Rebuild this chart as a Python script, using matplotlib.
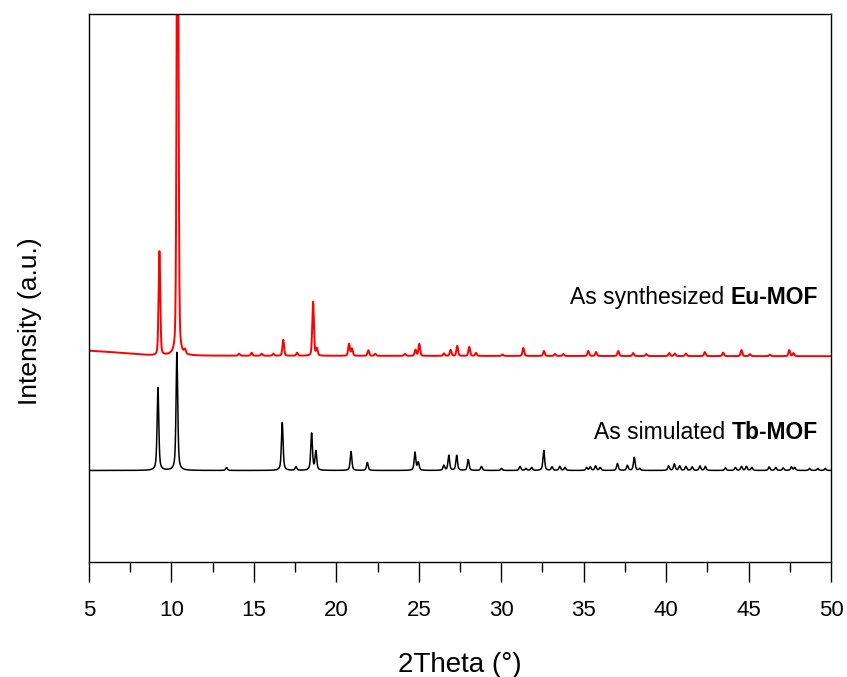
import numpy as np
import matplotlib
matplotlib.use("Agg")
import matplotlib.pyplot as plt
from matplotlib.ticker import MultipleLocator, NullLocator

plt.rcParams['font.family'] = ['Liberation Sans', 'DejaVu Sans']

# peak lists (2theta in degrees, height in plot units)
tb_pos = [9.18, 10.33, 13.34, 16.72, 17.55, 18.50, 18.76, 20.89, 21.88, 24.77, 24.97,
          26.52, 26.82, 27.30, 28.00, 28.80, 30.02, 31.14, 31.50, 31.84, 32.58, 33.08,
          33.55, 33.87, 35.18, 35.40, 35.72, 36.00, 37.05, 37.65, 38.07, 38.40, 40.15,
          40.50, 40.82, 41.20, 41.58, 42.05, 42.38, 43.60, 44.20, 44.57, 44.87, 45.20,
          46.25, 46.65, 47.10, 47.60, 47.80, 48.70, 49.20, 49.65]
tb_hgt = [83, 118, 3, 48, 3.5, 37, 19, 19, 8, 18, 8,
          5, 15, 15, 11, 4, 2, 4, 2, 3, 20, 3.5,
          4, 3, 3, 3.5, 4.5, 3, 7, 5, 13, 2, 4.5,
          6.5, 4.5, 4, 3.5, 4.5, 4, 2.5, 3, 4, 4, 3,
          3.5, 3, 2.5, 3.5, 3, 2, 2, 2]

eu_pos = [9.27, 10.37, 10.82, 14.10, 14.86, 15.47, 16.18, 16.78, 17.62, 18.59, 18.82,
          20.77, 20.95, 21.94, 22.36, 24.16, 24.80, 25.03, 26.53, 26.93, 27.33, 28.06,
          28.47, 30.08, 31.34, 32.59, 33.26, 33.76, 35.28, 35.75, 37.10, 38.00, 38.80,
          40.19, 40.53, 41.20, 42.35, 43.46, 44.57, 45.08, 46.30, 47.47, 47.72]
eu_hgt = [104, 600, 4, 2, 3, 2, 2, 16, 3, 54, 7,
          12, 7, 5.5, 2, 2, 6, 12, 2.5, 6, 10, 9,
          3, 1.5, 8, 5, 2, 2, 5, 4, 5, 3, 2,
          3, 2.5, 2.5, 4, 3.5, 6, 2, 1.5, 6, 3]

# slow background of the measured pattern near low angle
eu_bg_x = [5, 6, 7, 8, 9, 50]
eu_bg_y = [5.5, 4.5, 3.2, 1.8, 0.5, 0]

tb_base = 91.5
eu_base = 205.8

x = np.linspace(5, 50, 9001)


def pattern(pos, hgt, fwhm, eta):
    # pseudo-Voigt peak shape, eta = lorentzian fraction
    y = np.zeros_like(x)
    for p, h in zip(pos, hgt):
        d = (x - p) / (fwhm / 2)
        y += h * (eta / (1 + d ** 2) + (1 - eta) * np.exp(-np.log(2) * d ** 2))
    return y


tb = tb_base + pattern(tb_pos, tb_hgt, 0.12, 0.6)
eu = eu_base + np.interp(x, eu_bg_x, eu_bg_y) + pattern(eu_pos, eu_hgt, 0.12, 0.3)

fig = plt.figure(figsize=(8.47, 6.77), dpi=100)
ax = fig.add_axes([0.1051, 0.1699, 0.876, 0.8094])

ax.plot(x, tb, color='black', lw=1.1)
ax.plot(x, eu, color='#ff0000', lw=1.4)

ax.set_xlim(5, 50)
ax.set_ylim(0, 548)

ax.xaxis.set_major_locator(MultipleLocator(5))
ax.xaxis.set_minor_locator(MultipleLocator(2.5))
ax.yaxis.set_major_locator(NullLocator())
ax.tick_params(axis='x', which='major', direction='out', length=14.5, width=1.0,
               labelsize=16, pad=13)
ax.tick_params(axis='x', which='minor', direction='out', length=7, width=1.0)
for s in ax.spines.values():
    s.set_linewidth(1.0)

ax.set_xlabel('2Theta (°)', fontsize=20, labelpad=22)
ax.set_ylabel('Intensity (a.u.)', fontsize=19)
ax.yaxis.set_label_coords(-0.064, 0.44)

# labels: bold sample name, plain prefix placed just left of it
labels = [('As synthesized ', 'Eu-MOF', 0.482), ('As simulated ', 'Tb-MOF', 0.237)]
for plain, bold, ypos in labels:
    b = ax.text(0.982, ypos, bold, transform=ax.transAxes, ha='right', va='center',
                fontsize=16.5, fontweight='bold')
    ax.annotate(plain, xy=(0, 0), xycoords=b, ha='right', va='bottom', fontsize=16.5)

fig.savefig('out.png', dpi=100)
